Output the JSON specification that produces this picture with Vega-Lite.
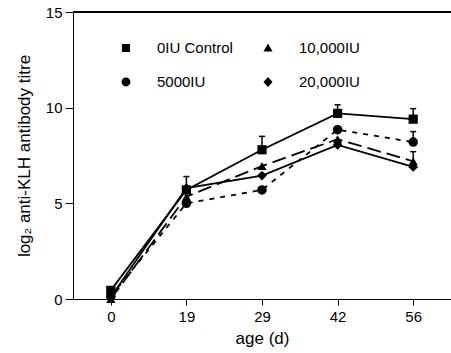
{
  "$schema": "https://vega.github.io/schema/vega-lite/v6.json",
  "autosize": "none",
  "width": 378,
  "height": 287,
  "padding": {"left": 73, "top": 12, "right": 0, "bottom": 54},
  "background": "white",
  "config": {
    "font": "Liberation Sans",
    "view": {"stroke": null},
    "axis": {"grid": false, "domainColor": "black", "tickColor": "black", "labelColor": "black", "titleColor": "black", "labelFontSize": 15, "titleFontSize": 17, "titleFontWeight": "normal", "labelFont": "Liberation Sans", "titleFont": "Liberation Sans"}
  },
  "data": {"values": [
    {"group": "0IU Control", "age": 0, "titre": 0.45},
    {"group": "0IU Control", "age": 19, "titre": 5.7, "hi": 6.4},
    {"group": "0IU Control", "age": 29, "titre": 7.8, "hi": 8.5},
    {"group": "0IU Control", "age": 42, "titre": 9.7, "hi": 10.15},
    {"group": "0IU Control", "age": 56, "titre": 9.4, "hi": 9.95},
    {"group": "5000IU", "age": 0, "titre": 0.15},
    {"group": "5000IU", "age": 19, "titre": 5.0},
    {"group": "5000IU", "age": 29, "titre": 5.7},
    {"group": "5000IU", "age": 42, "titre": 8.85},
    {"group": "5000IU", "age": 56, "titre": 8.2, "hi": 8.75},
    {"group": "10,000IU", "age": 0, "titre": 0.0},
    {"group": "10,000IU", "age": 19, "titre": 5.35},
    {"group": "10,000IU", "age": 29, "titre": 6.95},
    {"group": "10,000IU", "age": 42, "titre": 8.35},
    {"group": "10,000IU", "age": 56, "titre": 7.2, "hi": 7.7},
    {"group": "20,000IU", "age": 0, "titre": 0.1},
    {"group": "20,000IU", "age": 19, "titre": 5.8},
    {"group": "20,000IU", "age": 29, "titre": 6.45},
    {"group": "20,000IU", "age": 42, "titre": 8.05},
    {"group": "20,000IU", "age": 56, "titre": 6.9}
  ]},
  "encoding": {
    "x": {"field": "age", "type": "ordinal", "scale": {"type": "point", "padding": 0.5},
      "axis": {"title": "age (d)", "labelAngle": 0, "tickSize": 6, "labelPadding": 4, "titlePadding": 6}},
    "y": {"field": "titre", "type": "quantitative", "scale": {"domain": [0, 15], "nice": false},
      "axis": {"title": "log₂ anti-KLH antibody titre", "values": [0, 5, 10, 15], "tickSize": 8, "labelPadding": 3, "titlePadding": 12}}
  },
  "layer": [
    {
      "mark": {"type": "rule", "color": "black", "strokeWidth": 1},
      "encoding": {"x": null, "y": {"datum": 15}}
    },
    {
      "transform": [{"filter": "datum.hi != null"}],
      "mark": {"type": "rule", "color": "black", "strokeWidth": 1.5},
      "encoding": {"y2": {"field": "hi"}}
    },
    {
      "transform": [{"filter": "datum.hi != null"}],
      "mark": {"type": "tick", "color": "black", "thickness": 1.5, "size": 6, "opacity": 1},
      "encoding": {"y": {"field": "hi", "type": "quantitative"}}
    },
    {
      "transform": [{"filter": "datum.group === '0IU Control' || datum.group === '20,000IU'"}],
      "mark": {"type": "line", "color": "black", "strokeWidth": 1.8},
      "encoding": {"detail": {"field": "group"}}
    },
    {
      "transform": [{"filter": "datum.group === '5000IU'"}],
      "mark": {"type": "line", "color": "black", "strokeWidth": 1.8, "strokeDash": [5, 6]},
      "encoding": {}
    },
    {
      "transform": [{"filter": "datum.group === '10,000IU'"}],
      "mark": {"type": "line", "color": "black", "strokeWidth": 1.8, "strokeDash": [14, 6]},
      "encoding": {}
    },
    {
      "transform": [{"filter": "datum.group === '0IU Control'"}],
      "mark": {"type": "point", "shape": "square", "filled": true, "color": "black", "opacity": 1, "size": 85},
      "encoding": {}
    },
    {
      "transform": [{"filter": "datum.group === '5000IU'"}],
      "mark": {"type": "point", "shape": "circle", "filled": true, "color": "black", "opacity": 1, "size": 90},
      "encoding": {}
    },
    {
      "transform": [{"filter": "datum.group === '10,000IU'"}],
      "mark": {"type": "point", "shape": "triangle-up", "filled": true, "color": "black", "opacity": 1, "size": 85},
      "encoding": {}
    },
    {
      "transform": [{"filter": "datum.group === '20,000IU'"}],
      "mark": {"type": "point", "shape": "diamond", "filled": true, "color": "black", "opacity": 1, "size": 95},
      "encoding": {}
    },
    {
      "transform": [{"filter": "false"}],
      "mark": {"type": "point", "filled": false, "fill": "black", "stroke": "black", "strokeWidth": 1.5, "opacity": 1},
      "encoding": {
        "strokeDash": {"field": "group", "type": "nominal",
          "scale": {"domain": ["0IU Control", "5000IU", "10,000IU", "20,000IU"], "range": [[1, 0], [5, 26, 2, 10], [14, 16, 2, 10], [1, 0]]}},
        "shape": {"field": "group", "type": "nominal",
          "scale": {"domain": ["0IU Control", "5000IU", "10,000IU", "20,000IU"],
            "range": ["M-1,0H1M-0.24,-0.24H0.24V0.24H-0.24Z", "M-1,0H1M0.26,0A0.26,0.26 0 1,1 -0.26,0A0.26,0.26 0 1,1 0.26,0Z", "M-1,0H1M0,-0.27L0.27,0.2H-0.27Z", "M-1,0H1M0,-0.29L0.27,0L0,0.29L-0.27,0Z"]},
          "legend": {
            "title": null, "orient": "none", "legendX": 35, "legendY": 18, "columns": 2, "padding": 0,
            "symbolSize": 1156, "symbolFillColor": "black", "symbolStrokeColor": "black", "symbolStrokeWidth": 1.5, "symbolOpacity": 1,
            "labelFontSize": 15, "labelFont": "Liberation Sans", "labelColor": "black", "labelOffset": 13,
            "columnPadding": 15, "rowPadding": 8
          }}
      }
    }
  ]
}
